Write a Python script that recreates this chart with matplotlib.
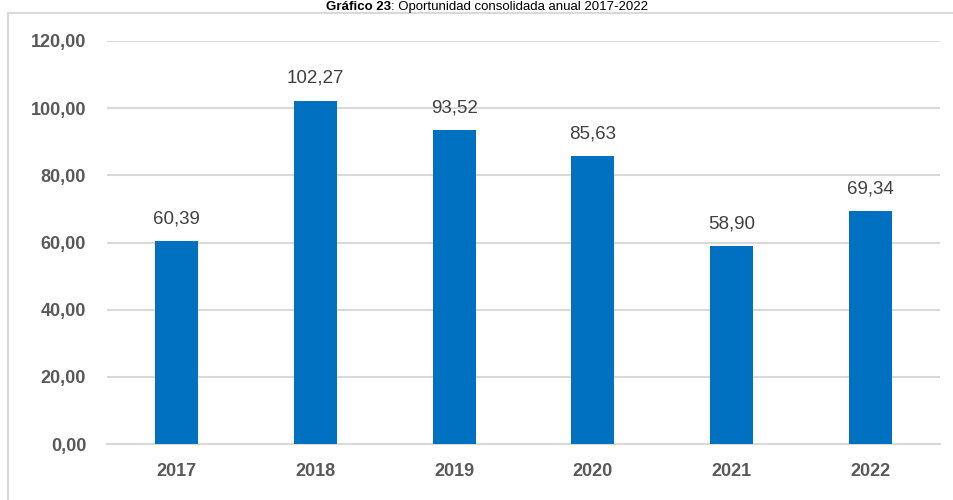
import matplotlib
matplotlib.use('Agg')
import matplotlib.pyplot as plt
from matplotlib.patches import Rectangle

# Oportunidad consolidada anual
years = ['2017', '2018', '2019', '2020', '2021', '2022']
values = [60.39, 102.27, 93.52, 85.63, 58.90, 69.34]
yticks = [0, 20, 40, 60, 80, 100, 120]

plt.rcParams['font.family'] = ['Liberation Sans', 'DejaVu Sans']

fig = plt.figure(figsize=(9.54, 5.0), dpi=100)
ax = fig.add_axes([107/954, 1 - 444/500, (940 - 107)/954, (444 - 41)/500])

x = range(len(years))
bars = ax.bar(x, values, width=0.31, color='#0070C0', zorder=3)

def fmt(v):
    return f'{v:.2f}'.replace('.', ',')

for b, v in zip(bars, values):
    ax.annotate(fmt(v), (b.get_x() + b.get_width()/2, v), xytext=(0, 10),
                textcoords='offset points', ha='center', va='bottom',
                fontsize=13.5, color='#404040')

ax.set_ylim(0, 120)
ax.set_xlim(-0.5, len(years) - 0.5)
ax.set_yticks(yticks)
ax.set_yticklabels([fmt(t) for t in yticks], fontsize=13, fontweight='bold', color='#595959')
ax.set_xticks(list(x))
ax.set_xticklabels(years, fontsize=13, fontweight='bold', color='#595959')
ax.tick_params(axis='y', length=0, pad=15)
ax.tick_params(axis='x', length=0, pad=14)
ax.grid(axis='y', color='#d9d9d9', lw=1.5, zorder=0)
for s in ['top', 'right', 'left']:
    ax.spines[s].set_visible(False)
ax.spines['bottom'].set_color('#d9d9d9')
ax.spines['bottom'].set_linewidth(1.5)

# outer frame of the chart
top_px = 13
fig.patches.append(Rectangle((8.5/954, -0.1), 1.2, 1 - top_px/500 + 0.1,
                             transform=fig.transFigure, fill=False,
                             edgecolor='#d9d9d9', lw=1.5))

# title: bold label followed by regular text, centred as a whole
t1 = fig.text(0, 1 - 1/500, 'Gráfico 23', ha='left', va='top',
              fontsize=9.5, fontweight='bold', color='black')
t2 = fig.text(0, 1 - 1/500, ': Oportunidad consolidada anual 2017-2022', ha='left', va='top',
              fontsize=9.5, color='black')
r = fig.canvas.get_renderer()
w1 = t1.get_window_extent(r).width
w2 = t2.get_window_extent(r).width
x0 = 487 - (w1 + w2) / 2
t1.set_x(x0 / 954)
t2.set_x((x0 + w1) / 954)

fig.savefig('out.png', dpi=100)
